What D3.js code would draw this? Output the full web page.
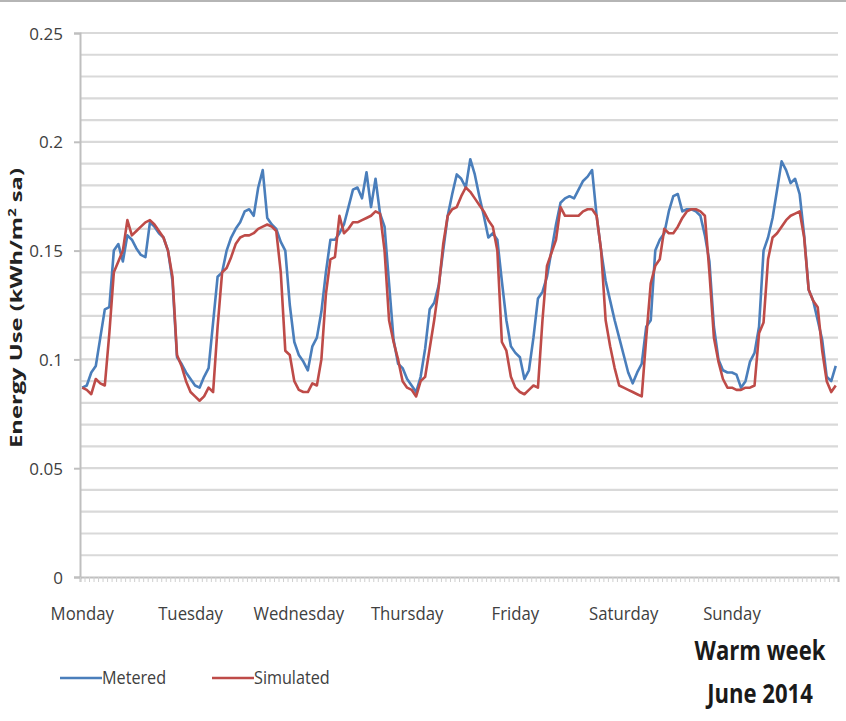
<!DOCTYPE html>
<html>
<head>
<meta charset="utf-8">
<script src="https://cdn.jsdelivr.net/npm/d3@7"></script>
<style>
  body { margin: 0; background: #fff; }
  svg text { font-family: "Open Sans", "Noto Sans", sans-serif; }
</style>
</head>
<body>
<svg id="chart" width="846" height="721"></svg>
<script>
// hourly values, one week (Mon..Sun), kWh/m2 sa
const metered = [
  // Mon
  0.087,0.088,0.094,0.097,0.110,0.123,0.124,0.150,0.153,0.145,0.157,0.155,0.151,0.148,0.147,0.163,0.161,0.158,0.156,0.150,0.136,0.101,0.098,0.094,
  // Tue
  0.091,0.088,0.087,0.092,0.096,0.117,0.138,0.140,0.150,0.156,0.160,0.163,0.168,0.169,0.166,0.179,0.187,0.165,0.162,0.160,0.154,0.150,0.125,0.108,
  // Wed
  0.102,0.099,0.095,0.106,0.110,0.122,0.140,0.155,0.155,0.158,0.162,0.170,0.178,0.179,0.174,0.186,0.170,0.183,0.167,0.161,0.135,0.109,0.098,0.096,
  // Thu
  0.091,0.088,0.085,0.092,0.105,0.123,0.126,0.134,0.150,0.166,0.176,0.185,0.183,0.179,0.192,0.185,0.175,0.166,0.156,0.158,0.155,0.136,0.118,0.106,
  // Fri
  0.103,0.101,0.091,0.095,0.110,0.128,0.131,0.138,0.150,0.162,0.172,0.174,0.175,0.174,0.178,0.182,0.184,0.187,0.166,0.150,0.136,0.127,0.118,0.110,
  // Sat
  0.102,0.094,0.089,0.094,0.098,0.115,0.118,0.150,0.155,0.158,0.168,0.175,0.176,0.168,0.169,0.169,0.168,0.166,0.157,0.145,0.115,0.100,0.095,0.094,
  // Sun
  0.094,0.093,0.087,0.090,0.099,0.103,0.115,0.150,0.156,0.165,0.178,0.191,0.187,0.181,0.183,0.176,0.157,0.132,0.127,0.118,0.109,0.092,0.090,0.097
];
const simulated = [
  0.087,0.086,0.084,0.091,0.089,0.088,0.112,0.140,0.145,0.150,0.164,0.157,0.159,0.161,0.163,0.164,0.162,0.159,0.156,0.150,0.138,0.102,0.097,0.090,
  0.085,0.083,0.081,0.083,0.087,0.085,0.115,0.140,0.142,0.147,0.153,0.156,0.157,0.157,0.158,0.160,0.161,0.162,0.161,0.159,0.140,0.104,0.102,0.090,
  0.086,0.085,0.085,0.089,0.088,0.100,0.130,0.146,0.147,0.166,0.158,0.160,0.163,0.163,0.164,0.165,0.166,0.168,0.167,0.150,0.118,0.108,0.100,0.090,
  0.087,0.086,0.083,0.090,0.092,0.105,0.118,0.133,0.153,0.166,0.169,0.170,0.175,0.179,0.177,0.174,0.171,0.168,0.164,0.161,0.150,0.108,0.104,0.092,
  0.087,0.085,0.084,0.086,0.088,0.087,0.118,0.143,0.149,0.155,0.170,0.166,0.166,0.166,0.166,0.168,0.169,0.169,0.166,0.150,0.118,0.106,0.096,0.088,
  0.087,0.086,0.085,0.084,0.083,0.110,0.135,0.143,0.146,0.160,0.158,0.158,0.161,0.165,0.168,0.169,0.169,0.168,0.166,0.140,0.110,0.099,0.091,0.087,
  0.087,0.086,0.086,0.087,0.087,0.088,0.112,0.117,0.146,0.156,0.158,0.161,0.164,0.166,0.167,0.168,0.156,0.132,0.127,0.124,0.104,0.090,0.085,0.088
];
const days = ["Monday", "Tuesday", "Wednesday", "Thursday", "Friday", "Saturday", "Sunday"];
const yTicks = [0, 0.05, 0.1, 0.15, 0.2, 0.25];
const series = [
  {name: "Metered", values: metered, color: "#4a7ebb"},
  {name: "Simulated", values: simulated, color: "#be4b48"}
];

const margin = {left: 80, top: 33, right: 8, bottom: 144};
const width = 846 - margin.left - margin.right,
      height = 721 - margin.top - margin.bottom;

const svg = d3.select("#chart");

// frame line along the top of the picture
svg.append("line")
  .attr("x1", 0).attr("x2", 846).attr("y1", 1).attr("y2", 1)
  .attr("stroke", "#b5b5b5").attr("stroke-width", 2);

const g = svg.append("g")
  .attr("transform", "translate(" + margin.left + "," + margin.top + ")");

const hours = d3.range(metered.length);
const x = d3.scalePoint().domain(hours).range([0, width]).padding(0.5);
const step = x.step();
const y = d3.scaleLinear().domain([0, 0.25]).range([height, 0]);

// horizontal grid every 0.01
g.append("g")
  .selectAll("line")
  .data(d3.range(1, 26).map(d => d / 100))
  .join("line")
    .attr("x1", 0).attr("x2", width)
    .attr("y1", d => y(d)).attr("y2", d => y(d))
    .attr("stroke", "#d9d9d9").attr("stroke-width", 2.2);

// y axis
const yAxis = g.append("g")
  .call(d3.axisLeft(y).tickValues(yTicks).tickSize(6).tickPadding(11)
    .tickFormat(d => d === 0 ? "0" : String(+d.toFixed(2))));
yAxis.select(".domain").attr("stroke", "#bfbfbf").attr("stroke-width", 2);
yAxis.selectAll(".tick line").attr("stroke", "#bfbfbf").attr("stroke-width", 2);
yAxis.selectAll("text")
  .attr("fill", "#404040")
  .attr("dy", "0.36em")
  .style("font-size", "17px");

// x axis: a small tick for every hour, labels at the start of each day
const xAxis = g.append("g")
  .attr("transform", "translate(0," + height + ")")
  .call(d3.axisBottom(x).tickValues(hours).tickSize(5).tickFormat(""));
xAxis.select(".domain").attr("stroke", "#bfbfbf").attr("stroke-width", 2);
xAxis.selectAll(".tick line")
  .attr("transform", "translate(" + (-step / 2) + ",0)")
  .attr("stroke", "#cfcfcf").attr("stroke-width", 1);

g.append("g")
  .selectAll("text")
  .data(days)
  .join("text")
    .attr("transform", (d, i) => "translate(" + x(i * 24) + "," + (height + 43) + ") scale(0.93,1)")
    .attr("text-anchor", "middle")
    .attr("fill", "#404040")
    .style("font-size", "18px")
    .text(d => d);

// y axis title
svg.append("text")
  .attr("transform", "translate(22,308) rotate(-90)")
  .attr("text-anchor", "middle")
  .attr("fill", "#222")
  .attr("textLength", 280)
  .attr("lengthAdjust", "spacingAndGlyphs")
  .style("font-size", "16px")
  .style("font-weight", "bold")
  .html('Energy Use (kWh/m<tspan dy="-6" font-size="10px">2</tspan><tspan dy="6"> sa)</tspan>');

// lines
const line = d3.line()
  .x((d, i) => x(i))
  .y(d => y(d));

g.selectAll(".series")
  .data(series)
  .join("path")
    .attr("class", "series")
    .attr("fill", "none")
    .attr("stroke", d => d.color)
    .attr("stroke-width", 2.6)
    .attr("stroke-linejoin", "round")
    .attr("d", d => line(d.values));

// legend
const legend = svg.append("g")
  .selectAll("g")
  .data(series)
  .join("g")
    .attr("transform", (d, i) => "translate(" + (60 + i * 152) + ",678)");
legend.append("line")
  .attr("x1", 0).attr("x2", 42)
  .attr("stroke", d => d.color).attr("stroke-width", 2.6);
legend.append("text")
  .attr("transform", "translate(42,6) scale(0.9,1)")
  .attr("fill", "#404040")
  .style("font-size", "18px")
  .text(d => d.name);

// title
const title = svg.append("g").attr("transform", "translate(760,0)");
title.append("text")
  .attr("transform", "translate(0,660) scale(0.85,1)")
  .attr("text-anchor", "middle")
  .attr("fill", "#1a1a1a").style("font-size", "26px").style("font-weight", "bold")
  .text("Warm week");
title.append("text")
  .attr("transform", "translate(0,703) scale(0.85,1)")
  .attr("text-anchor", "middle")
  .attr("fill", "#1a1a1a").style("font-size", "26px").style("font-weight", "bold")
  .text("June 2014");
</script>
</body>
</html>
